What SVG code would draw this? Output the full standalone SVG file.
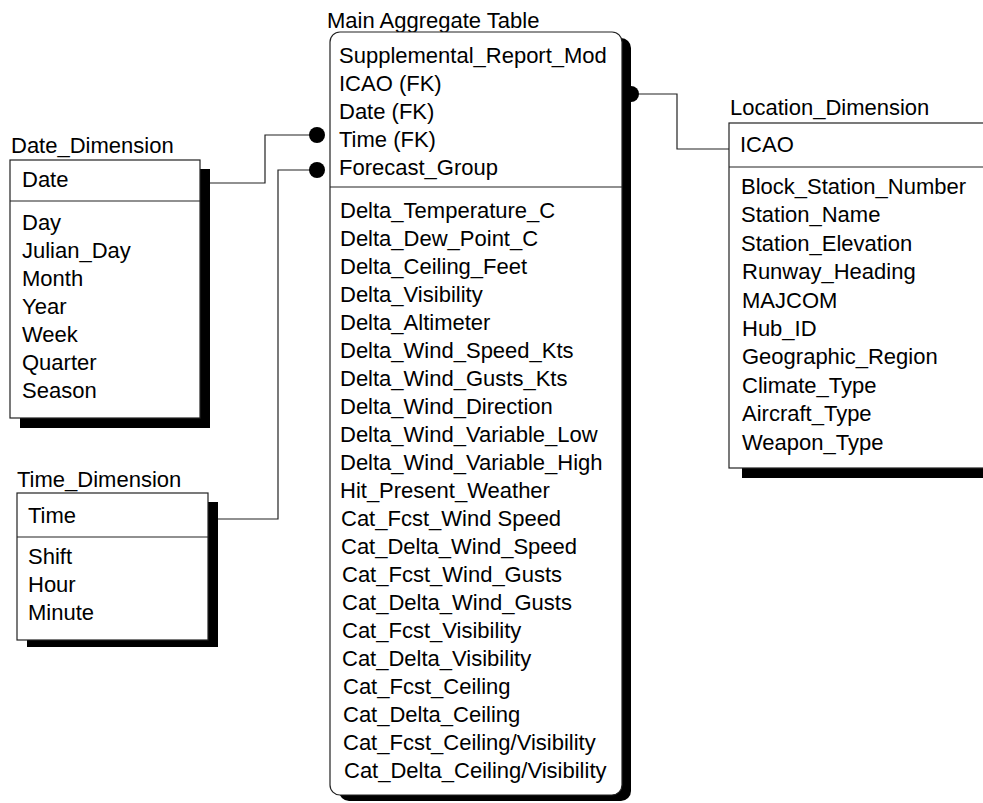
<svg xmlns="http://www.w3.org/2000/svg" width="983" height="803" viewBox="0 0 983 803">
<style>
text{font-family:"Liberation Sans",Arial,sans-serif;font-size:22px;fill:#000}
.box{fill:#fff;stroke:#222;stroke-width:1.2}
.shadow{fill:#000}
.sep{stroke:#222;stroke-width:1.2}
.conn{fill:none;stroke:#222;stroke-width:1.2}
.dot{fill:#000}
</style>
<g id="connectors">
<path class="conn" d="M200,183 H265 V135 H317"/>
<path class="conn" d="M208,519 H278 V170 H317"/>
<path class="conn" d="M632,94 H677 V149 H729"/>
</g>
<g id="main">
<text x="327" y="28">Main Aggregate Table</text>
<rect class="shadow" x="339" y="38" width="292" height="763" rx="10"/>
<rect class="box" x="330" y="32" width="292" height="763" rx="10"/>
<line class="sep" x1="330" y1="187" x2="622" y2="187"/>
<text x="339" y="63">Supplemental_Report_Mod</text>
<text x="339" y="91">ICAO (FK)</text>
<text x="339" y="119">Date (FK)</text>
<text x="339" y="147">Time (FK)</text>
<text x="339" y="175">Forecast_Group</text>
<text x="340" y="218">Delta_Temperature_C</text>
<text x="340" y="246">Delta_Dew_Point_C</text>
<text x="340" y="274">Delta_Ceiling_Feet</text>
<text x="340" y="302">Delta_Visibility</text>
<text x="340" y="330">Delta_Altimeter</text>
<text x="340" y="358">Delta_Wind_Speed_Kts</text>
<text x="340" y="386">Delta_Wind_Gusts_Kts</text>
<text x="340" y="414">Delta_Wind_Direction</text>
<text x="340" y="442">Delta_Wind_Variable_Low</text>
<text x="340" y="470">Delta_Wind_Variable_High</text>
<text x="340" y="498">Hit_Present_Weather</text>
<text x="341" y="526">Cat_Fcst_Wind Speed</text>
<text x="341" y="554">Cat_Delta_Wind_Speed</text>
<text x="342" y="582">Cat_Fcst_Wind_Gusts</text>
<text x="342" y="610">Cat_Delta_Wind_Gusts</text>
<text x="342" y="638">Cat_Fcst_Visibility</text>
<text x="342" y="666">Cat_Delta_Visibility</text>
<text x="343" y="694">Cat_Fcst_Ceiling</text>
<text x="343" y="722">Cat_Delta_Ceiling</text>
<text x="343" y="750">Cat_Fcst_Ceiling/Visibility</text>
<text x="344" y="778">Cat_Delta_Ceiling/Visibility</text>
</g>
<g id="date_dimension">
<text x="11" y="153">Date_Dimension</text>
<rect class="shadow" x="20" y="169" width="190" height="259"/>
<rect class="box" x="10" y="160" width="190" height="258"/>
<line class="sep" x1="10" y1="201" x2="200" y2="201"/>
<text x="22" y="187">Date</text>
<text x="22" y="230">Day</text>
<text x="22" y="258">Julian_Day</text>
<text x="22" y="286">Month</text>
<text x="22" y="314">Year</text>
<text x="22" y="342">Week</text>
<text x="22" y="370">Quarter</text>
<text x="22" y="398">Season</text>
</g>
<g id="time_dimension">
<text x="17" y="487">Time_Dimension</text>
<rect class="shadow" x="27" y="502" width="191" height="145"/>
<rect class="box" x="17" y="493" width="191" height="147"/>
<line class="sep" x1="17" y1="537" x2="208" y2="537"/>
<text x="28" y="523">Time</text>
<text x="28" y="564">Shift</text>
<text x="28" y="592">Hour</text>
<text x="28" y="620">Minute</text>
</g>
<g id="location_dimension">
<text x="730" y="115">Location_Dimension</text>
<rect class="shadow" x="742" y="133" width="260" height="345"/>
<rect class="box" x="729" y="123" width="270" height="345"/>
<line class="sep" x1="729" y1="167" x2="999" y2="167"/>
<text x="740" y="152">ICAO</text>
<text x="741" y="194">Block_Station_Number</text>
<text x="741" y="222">Station_Name</text>
<text x="741" y="251">Station_Elevation</text>
<text x="742" y="279">Runway_Heading</text>
<text x="742" y="308">MAJCOM</text>
<text x="742" y="336">Hub_ID</text>
<text x="742" y="364">Geographic_Region</text>
<text x="742" y="393">Climate_Type</text>
<text x="742" y="421">Aircraft_Type</text>
<text x="742" y="450">Weapon_Type</text>
</g>
<g id="endpoints">
<circle class="dot" cx="317" cy="135" r="8"/>
<circle class="dot" cx="317" cy="170" r="8"/>
<circle class="dot" cx="631" cy="94" r="8"/>
</g>
</svg>
